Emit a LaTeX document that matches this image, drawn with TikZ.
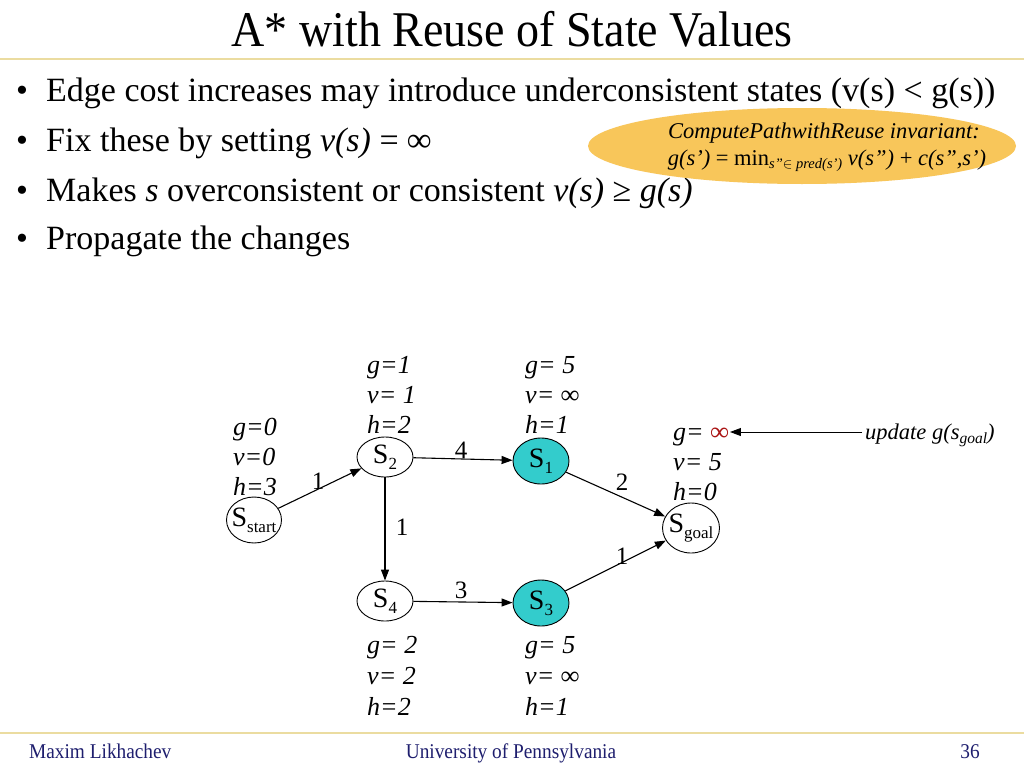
\documentclass[tikz,border=0pt]{standalone}
\usepackage{fontspec}
\setmainfont{Liberation Serif}
\usetikzlibrary{arrows.meta,shapes.geometric}
\definecolor{tealfill}{RGB}{51,204,204}
\definecolor{goldfill}{RGB}{248,198,90}
\definecolor{navytext}{RGB}{30,30,110}
\definecolor{rulecol}{RGB}{235,220,160}
\definecolor{infred}{RGB}{170,20,20}
\newcommand{\fs}[1]{\fontsize{#1}{#1}\selectfont}
\begin{document}
\begin{tikzpicture}[x=1pt,y=-1pt,
  statenode/.style={ellipse,draw=black,line width=0.9pt,fill=white,minimum width=56pt,minimum height=42pt,inner sep=0pt,font=\fs{28}},
  widenode/.style={statenode,inner xsep=-7pt,inner ysep=-2pt},
  hotnode/.style={statenode,fill=tealfill},
  arr/.style={-{Triangle[length=11pt,width=8pt]},line width=1.1pt},
  vallab/.style={anchor=base west,inner sep=0pt,font=\fs{26}\itshape},
  edgelab/.style={inner sep=0pt,font=\fs{25}},
  bullettext/.style={anchor=base west,inner sep=0pt,font=\fs{34}},
  foot/.style={anchor=base,inner sep=0pt,font=\fs{21},text=navytext}
]
\useasboundingbox (0,0) rectangle (1024,768);
\fill[white] (0,0) rectangle (1024,768);
% title
\node[inner sep=0pt,anchor=base] (title) at (512,47) {\fs{50}\scalebox{0.92}[1]{A* with Reuse of State Values}};
\draw[rulecol,line width=1.2pt] (0,59) coordinate (r1a) -- (1024,59) coordinate (r1b);
% bullets
\foreach \yy/\nm in {101/b1,151/b2,201/b3,249/b4}{
  \node[bullettext] (\nm dot) at (16,\yy) {•};
}
\node[bullettext] (b1) at (46,101) {Edge cost increases may introduce underconsistent states (v(s) < g(s))};
\node[bullettext] (b2) at (46,151) {Fix these by setting \textit{v(s)} = \textit{∞}};
\node[bullettext] (b3) at (46,201) {Makes \textit{s} overconsistent or consistent \textit{v(s)} ≥ \textit{g(s)}};
\node[bullettext] (b4) at (46,249) {Propagate the changes};
% invariant ellipse
\node[ellipse,fill=goldfill,minimum width=428pt,minimum height=76pt,inner sep=0pt] (inv) at (802,146) {};
\node[inner sep=0pt,anchor=base,font=\fs{22.5}] (inv1) at (824,138) {\textit{ComputePathwithReuse invariant:}};
\node[inner sep=0pt,anchor=base,font=\fs{22.5}] (inv2) at (827,165) {\textit{g(s’)} = min\raisebox{-0.35ex}{\fs{14.5}\textit{s”}$\in$\textit{ pred(s’)}} \textit{v(s”)} + \textit{c(s”,s’)}};
% states
\node[widenode,minimum width=55pt,minimum height=46pt] (start) at (254,520) {S\raisebox{-0.45ex}{\fs{17}start}};
\node[statenode,minimum height=40pt] (s2) at (385,457) {S\raisebox{-0.45ex}{\fs{17}2}};
\node[hotnode,minimum height=46pt] (s1) at (541,461) {S\raisebox{-0.45ex}{\fs{17}1}};
\node[widenode,minimum width=57pt,minimum height=50pt] (goal) at (691,528) {S\raisebox{-0.45ex}{\fs{17}goal}};
\node[statenode,minimum height=40pt] (s4) at (385,601) {S\raisebox{-0.45ex}{\fs{17}4}};
\node[hotnode,minimum height=46pt] (s3) at (541,603) {S\raisebox{-0.45ex}{\fs{17}3}};
% edges
\draw[arr] (start) -- (s2) node[edgelab] (e1) at (318,481) {1};
\draw[arr] (s2) -- (s1) node[edgelab] (e2) at (461,450) {4};
\draw[arr] (s1) -- (goal) node[edgelab] (e3) at (622,482) {2};
\draw[arr] (s2) -- (s4) node[edgelab] (e4) at (402,527) {1};
\draw[arr] (s4) -- (s3) node[edgelab] (e5) at (461,590) {3};
\draw[arr] (s3) -- (goal) node[edgelab] (e6) at (622,556) {1};
% values
\node[vallab] (vs1) at (233,435) {g=0};
\node[vallab] (vs2) at (233,465) {v=0};
\node[vallab] (vs3) at (233,495) {h=3};
\node[vallab] (v21) at (367,373) {g=1};
\node[vallab] (v22) at (367,403) {v= 1};
\node[vallab] (v23) at (367,433) {h=2};
\node[vallab] (v11) at (525,373) {g= 5};
\node[vallab] (v12) at (525,403) {v= ∞};
\node[vallab] (v13) at (525,433) {h=1};
\node[vallab] (vg1) at (673,440) {g= \textcolor{infred}{∞}};
\node[vallab] (vg2) at (673,470) {v= 5};
\node[vallab] (vg3) at (673,500) {h=0};
\node[vallab] (v41) at (367,653) {g= 2};
\node[vallab] (v42) at (367,684) {v= 2};
\node[vallab] (v43) at (367,715) {h=2};
\node[vallab] (v31) at (525,653) {g= 5};
\node[vallab] (v32) at (525,684) {v= ∞};
\node[vallab] (v33) at (525,715) {h=1};
% update annotation
\node[inner sep=0pt,anchor=base west,font=\fs{22.5}\itshape] (upd) at (865,439) {update g(s\raisebox{-0.4ex}{\fs{15.5}goal})};
\coordinate (updtail) at (862,432);
\draw[arr,line width=0.9pt] (updtail) -- ([xshift=1pt]vg1.east |- updtail);
% footer
\draw[rulecol,line width=1.2pt] (0,733) coordinate (r2a) -- (1024,733) coordinate (r2b);
\node[foot,anchor=base west] (f1) at (29,758) {\scalebox{0.92}[1]{Maxim Likhachev}};
\node[foot] (f2) at (511,758) {\scalebox{0.92}[1]{University of Pennsylvania}};
\node[foot] (f3) at (970,758) {\scalebox{0.92}[1]{36}};
\end{tikzpicture}
\end{document}
